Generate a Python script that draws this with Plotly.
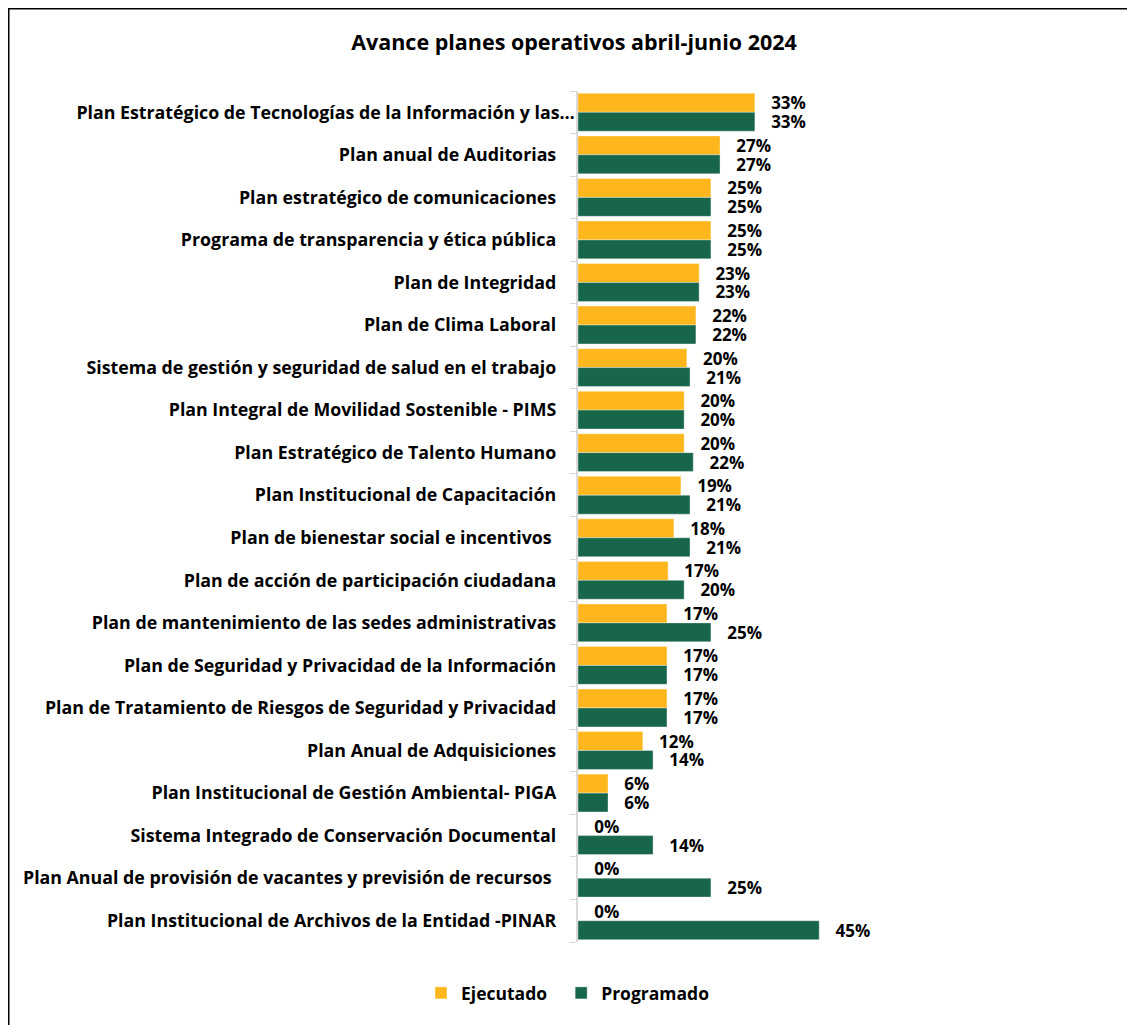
import plotly.graph_objects as go

categories = [
    "Plan Estratégico de Tecnologías de la Información y las…",
    "Plan anual de Auditorias",
    "Plan estratégico de comunicaciones",
    "Programa de transparencia y ética pública",
    "Plan de Integridad",
    "Plan de Clima Laboral",
    "Sistema de gestión y seguridad de salud en el trabajo",
    "Plan Integral de Movilidad Sostenible - PIMS",
    "Plan Estratégico de Talento Humano",
    "Plan Institucional de Capacitación",
    "Plan de bienestar social e incentivos ",
    "Plan de acción de participación ciudadana",
    "Plan de mantenimiento de las sedes administrativas",
    "Plan de Seguridad y Privacidad de la Información",
    "Plan de Tratamiento de Riesgos de Seguridad y Privacidad",
    "Plan Anual de Adquisiciones",
    "Plan Institucional de Gestión Ambiental- PIGA",
    "Sistema Integrado de Conservación Documental",
    "Plan Anual de provisión de vacantes y previsión de recursos ",
    "Plan Institucional de Archivos de la Entidad -PINAR",
]
ejecutado = [0.33, 0.265, 0.248, 0.248, 0.226, 0.22, 0.203, 0.198, 0.198, 0.192,
             0.179, 0.168, 0.166, 0.166, 0.166, 0.121, 0.056, 0.0, 0.0, 0.0]
programado = [0.33, 0.265, 0.248, 0.248, 0.226, 0.22, 0.209, 0.198, 0.215, 0.209,
              0.209, 0.198, 0.248, 0.166, 0.166, 0.14, 0.056, 0.14, 0.248, 0.45]
series_names = ["Ejecutado", "Programado"]
colors = ["#FDB71C", "#17664A"]

OFF = 8  # page body margin
W, H = 1135 - OFF, 1025 - OFF
ml, mt = 578 - OFF, 91 - OFF
pw = 268
ph = 942 - 91
mr = W - ml - pw
mb = H - mt - ph

FONT = "Open Sans"
NB = "\u00a0"


def xp(fx):
    return (fx - ml) / pw


def yp(fy):
    return (H - mb - fy) / ph


ticktext = [c if c.endswith("…") else c + NB * 4 for c in categories]
legend_names = [series_names[0] + NB * 2, series_names[1]]

fig = go.Figure()
for name, lname, vals, col in zip(series_names, legend_names, [ejecutado, programado], colors):
    fig.add_trace(go.Bar(
        y=categories, x=vals, name=lname, orientation="h",
        marker=dict(color=col, line=dict(color="rgba(255,255,255,0.6)", width=0.6)),
        text=vals, texttemplate=NB * 3 + "%{x:.0%}", textposition="outside",
        constraintext="none",
        textfont=dict(family=FONT, size=17, color="black", weight="bold"),
        cliponaxis=False,
    ))

fig.update_layout(
    width=W, height=H,
    margin=dict(l=ml, r=mr, t=mt, b=mb),
    paper_bgcolor="white", plot_bgcolor="white",
    barmode="group", bargap=0.11, bargroupgap=0.0,
    font=dict(family=FONT, size=17, color="black"),
    title=dict(text="<b>Avance planes operativos abril-junio 2024</b>",
               x=(574 - OFF) / W, xanchor="center", y=1 - (42 - OFF) / H, yanchor="middle",
               font=dict(family=FONT, size=21.5, color="black")),
    legend=dict(orientation="h", x=xp(568 - OFF), xanchor="center", xref="paper",
                y=yp(993 - OFF), yref="paper", yanchor="middle",
                font=dict(family=FONT, size=17.5, color="black", weight="bold"),
                traceorder="normal", itemwidth=30),
    showlegend=True,
)
fig.update_xaxes(range=[0, 0.5], visible=False, showgrid=False)
fig.update_yaxes(
    autorange="reversed", tickvals=categories, ticktext=ticktext,
    showline=True, linecolor="#D9D9D9", linewidth=1.5,
    ticks="outside", tickson="boundaries", ticklen=6, tickcolor="#D9D9D9",
    tickfont=dict(family=FONT, size=17.8, color="black", weight="bold"),
    showgrid=False, ticklabelstandoff=-2,
)

fig.add_shape(type="rect", xref="paper", yref="paper",
              x0=xp(0.75), x1=xp(W + 20), y0=yp(0.75), y1=yp(H + 20),
              line=dict(color="black", width=1.5), fillcolor="rgba(0,0,0,0)",
              layer="above")

fig.write_html("out.html")
